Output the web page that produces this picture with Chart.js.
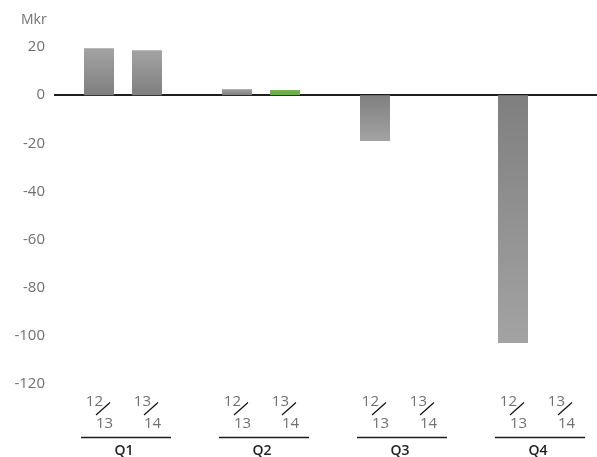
<!DOCTYPE html>
<html>
<head>
<meta charset="utf-8">
<script src="https://cdn.jsdelivr.net/npm/chart.js@4"></script>
<style>
  html, body { margin: 0; padding: 0; background: #fff; overflow: hidden; }
  #wrap { width: 606px; height: 457px; }
</style>
</head>
<body>
<div id="wrap"><canvas id="grafico"></canvas></div>
<script>
// Dados do gráfico:
const kvartal = ['Q1', 'Q2', 'Q3', 'Q4'];
const ar_1213 = [19.5, 2.5, -19, -103];
const ar_1314 = [18.7, 2.1, null, null];
const perioder = [['12', '13'], ['13', '14']]; // rótulo de cada barra (em cima / embaixo)
const enhet = 'Mkr';

let cinza_esc = '#7f7f7f';
let cinza_cla = '#a3a3a3';
let verde = '#6ab04c';
let texto = '#707070';

// Degradê do zero até a ponta da barra
function corBarra(ctx) {
  const chart = ctx.chart;
  const v = ctx.parsed ? ctx.parsed.y : null;
  if (v === null || v === undefined || !chart.chartArea) return cinza_esc;
  const y = chart.scales.y;
  const g = chart.ctx.createLinearGradient(0, y.getPixelForValue(0), 0, y.getPixelForValue(v));
  g.addColorStop(0, cinza_esc);
  g.addColorStop(1, cinza_cla);
  return g;
}

// Linha do zero, rótulos 12/13 e Q1..Q4
const rotulos = {
  id: 'rotulos',
  beforeDatasetsDraw(chart) {
    const c = chart.ctx, a = chart.chartArea;
    const y0 = Math.round(chart.scales.y.getPixelForValue(0));
    c.save();
    c.strokeStyle = '#1e1e1e';
    c.lineWidth = 2;
    c.beginPath();
    c.moveTo(a.left, y0);
    c.lineTo(a.right, y0);
    c.stroke();
    c.restore();
  },
  afterDraw(chart) {
    const c = chart.ctx;
    const x = chart.scales.x;
    c.save();
    c.fillStyle = texto;
    c.font = '14px "Open Sans"';
    c.textAlign = 'left';
    c.textBaseline = 'alphabetic';
    c.fillText(enhet, 21, 24);

    const m0 = chart.getDatasetMeta(0), m1 = chart.getDatasetMeta(1);
    kvartal.forEach((q, i) => {
      const centros = [m0.data[i].x, m1.data[i].x];
      centros.forEach((cx, k) => {
        const [cima, baixo] = perioder[k];
        c.fillStyle = texto;
        c.font = '15px "Open Sans"';
        c.textAlign = 'right';
        c.fillText(cima, cx + 4, 406);
        c.textAlign = 'left';
        c.fillText(baixo, cx - 3, 428);
        c.strokeStyle = '#111';
        c.lineWidth = 1.2;
        c.beginPath();
        c.moveTo(cx - 3, 415);
        c.lineTo(cx + 11, 402.5);
        c.stroke();
      });
      const mx = x.getPixelForValue(i);
      c.strokeStyle = '#1e1e1e';
      c.lineWidth = 1.5;
      c.beginPath();
      c.moveTo(mx - 42, 437.5);
      c.lineTo(mx + 48, 437.5);
      c.stroke();
      c.fillStyle = '#222';
      c.font = '600 14px "Open Sans"';
      c.textAlign = 'center';
      c.fillText(q, mx + 1, 455);
    });
    c.restore();
  }
};

new Chart(document.getElementById('grafico'), {
  type: 'bar',
  data: {
    labels: kvartal,
    datasets: [
      { label: '12/13', data: ar_1213, backgroundColor: corBarra },
      { label: '13/14', data: ar_1314,
        backgroundColor: (ctx) => ctx.dataIndex === 1 ? verde : corBarra(ctx) }
    ]
  },
  options: {
    responsive: true,
    maintainAspectRatio: false,
    animation: false,
    devicePixelRatio: 1,
    categoryPercentage: 96 / 138,
    barPercentage: 0.625,
    layout: { padding: { top: 47, bottom: 73, left: 0, right: 0 } },
    scales: {
      x: { display: false },
      y: {
        min: -120,
        max: 20,
        afterFit(scale) { scale.width = 54; },
        grid: { display: false, drawTicks: false },
        border: { display: false },
        ticks: {
          stepSize: 20,
          padding: 9,
          color: texto,
          font: { family: 'Open Sans', size: 15 }
        }
      }
    },
    plugins: {
      legend: { display: false },
      tooltip: { enabled: false }
    }
  },
  plugins: [rotulos]
});
</script>
</body>
</html>
